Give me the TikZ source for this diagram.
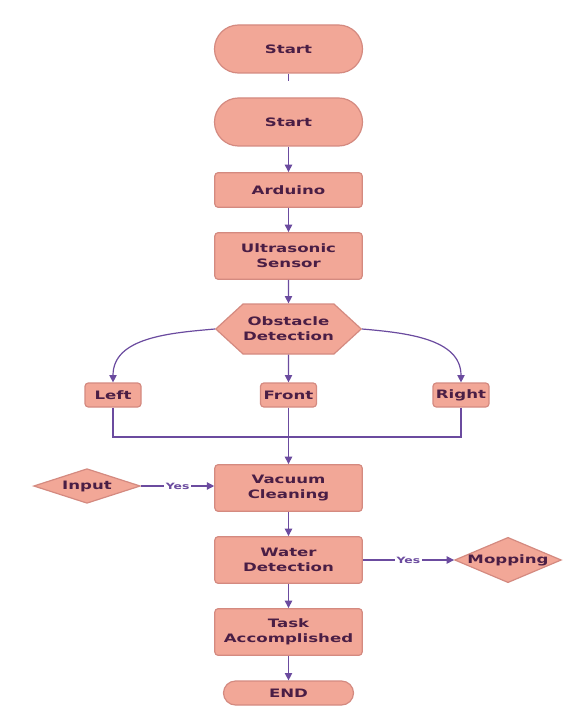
\documentclass[tikz,border=0pt]{standalone}
\usepackage{fontspec}
\setmainfont[FakeStretch=1.43]{DejaVu Sans}
\usetikzlibrary{arrows.meta,shapes.geometric,shapes.symbols}
\definecolor{boxfill}{HTML}{F2A797}
\definecolor{boxline}{HTML}{D48A80}
\definecolor{ink}{HTML}{4A1E45}
\definecolor{wire}{HTML}{6B4B9F}
\begin{document}
\begin{tikzpicture}[x=0.75pt,y=-0.75pt,
  every node/.style={font=\fontsize{8.7}{11.3}\selectfont\bfseries, text=ink, align=center},
  base/.style={draw=boxline, fill=boxfill, line width=0.9pt, inner sep=0pt},
  stepbox/.style={base, rectangle, rounded corners=2.5pt, minimum width=110.5pt},
  tallbox/.style={stepbox, minimum height=35pt},
  smallbox/.style={base, rectangle, rounded corners=2.5pt, minimum width=42pt, minimum height=18pt},
  term/.style={base, rectangle, rounded corners=18pt, minimum width=111pt, minimum height=36pt},
  choice/.style={base, diamond, aspect=3},
  hexa/.style={base, signal, signal to=west and east, signal pointer angle=85,
    minimum width=106.5pt, minimum height=37.5pt},
  link/.style={draw=wire, line width=0.9pt},
  flow/.style={link, -{Triangle[length=5.5pt,width=5.5pt]}},
  yeslbl/.style={font=\fontsize{6.5}{7}\selectfont\bfseries, text=wire, fill=white, inner sep=1pt}
]
\useasboundingbox[fill=white] (0,0) rectangle (586,706);

% main column
\node[term] (start1) at (288.5,49) {Start};
\node[term] (start2) at (288.5,122) {Start};
\node[stepbox, minimum height=26pt] (ard) at (288.5,190) {Arduino};
\node[tallbox] (ultra) at (288.5,256) {Ultrasonic\\Sensor};
\node[hexa] (obs) at (288.5,329) {Obstacle\\Detection};

% directions
\node[smallbox] (left) at (113,395) {Left};
\node[smallbox] (front) at (288.5,395) {Front};
\node[smallbox] (right) at (461,395) {Right};
\coordinate (merge) at (288.5,437);

\node[tallbox] (vac) at (288.5,488) {Vacuum\\Cleaning};
\node[choice, minimum width=80pt, minimum height=26pt] (input) at (87,486) {\makebox[0pt]{Input}};
\node[tallbox] (water) at (288.5,560) {Water\\Detection};
\node[choice, minimum width=80pt, minimum height=34pt] (mop) at (508,560) {\makebox[0pt]{Mopping}};
\node[tallbox] (task) at (288.5,632) {Task\\Accomplished};
\node[base, rectangle, rounded corners=9pt, minimum width=97.5pt, minimum height=18pt] (end) at (288.5,693) {END};

% connectors
\draw[link] (start1.south) -- ++(0,7);
\draw[flow] (start2) -- (ard);
\draw[flow] (ard) -- (ultra);
\draw[flow] (ultra) -- (obs);
\draw[flow] (obs.west) to[out=185,in=90] (left.north);
\draw[flow] (obs) -- (front);
\draw[flow] (obs.east) to[out=-5,in=90] (right.north);
\draw[link] (left.south) |- (merge) -| (right.south);
\draw[flow] (front) -- (vac);
\draw[flow] (input.east) -- node[yeslbl] {Yes} (input.east -| vac.west);
\draw[flow] (vac) -- (water);
\draw[flow] (water.east) -- node[yeslbl] {Yes} (mop.west);
\draw[flow] (water) -- (task);
\draw[flow] (task) -- (end);
\end{tikzpicture}
\end{document}
